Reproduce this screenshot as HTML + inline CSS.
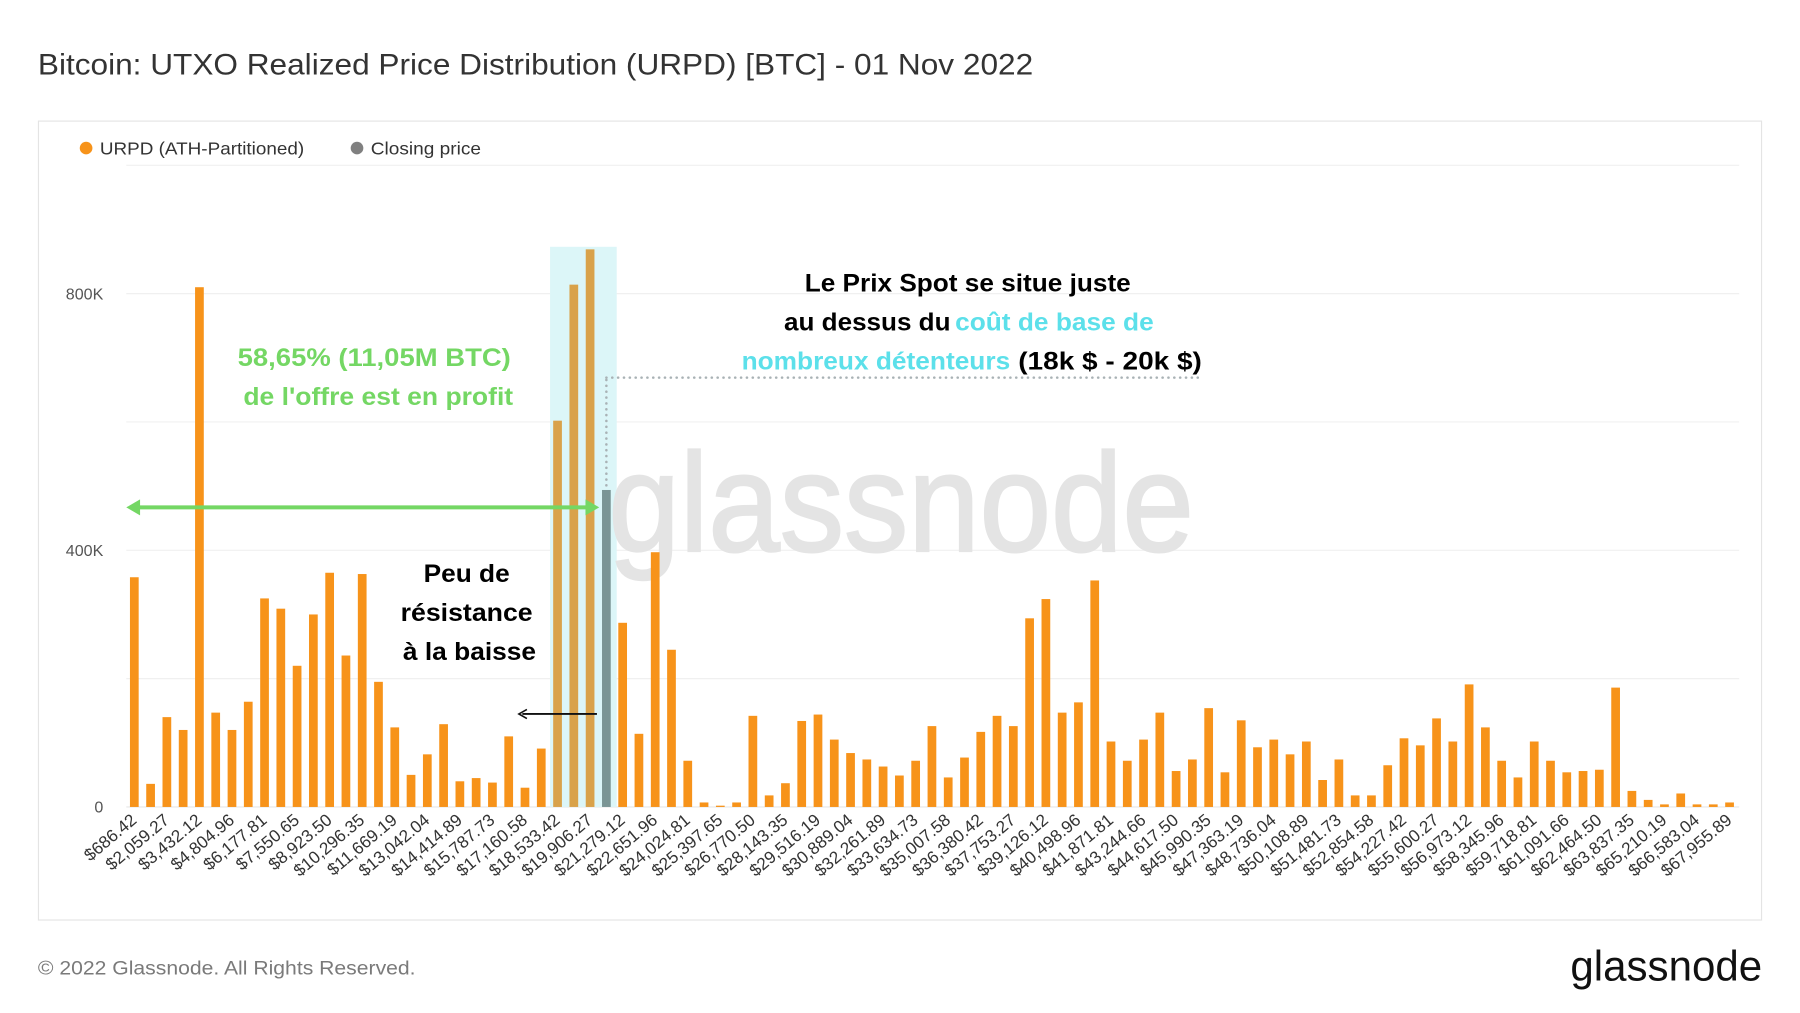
<!DOCTYPE html>
<html><head><meta charset="utf-8"><style>
html,body{margin:0;padding:0;background:#fff;}
svg{display:block;font-family:"Liberation Sans",sans-serif;}
</style></head><body>
<svg id="chart" width="1800" height="1013" viewBox="0 0 1568 882.5" preserveAspectRatio="none" xmlns="http://www.w3.org/2000/svg">
<text x="33" y="65" font-size="26" fill="#333" textLength="867" lengthAdjust="spacingAndGlyphs">Bitcoin: UTXO Realized Price Distribution (URPD) [BTC] - 01 Nov 2022</text>
<rect x="33.5" y="105.5" width="1501" height="696" fill="#fff" stroke="#e4e4e4"/>
<g>
 <g><circle cx="75" cy="129" r="5.5" fill="#f7931a"/><text x="87" y="134.5" font-size="15" fill="#333" textLength="178" lengthAdjust="spacingAndGlyphs">URPD (ATH-Partitioned)</text></g>
 <g><circle cx="311" cy="129" r="5.5" fill="#808080"/><text x="323" y="134.5" font-size="15" fill="#333" textLength="96" lengthAdjust="spacingAndGlyphs">Closing price</text></g>
</g>
<g id="grid"></g>
<g id="ylabels"></g>
<rect id="hl" fill="#dcf6f8"/>
<text x="530" y="480" font-size="122" fill="#e4e4e4" stroke="#e4e4e4" stroke-width="2" textLength="510" lengthAdjust="spacingAndGlyphs">glassnode</text>
<g id="bars"></g>
<g id="xlabels"></g>
<line id="dotv" stroke="#a9b2b5" stroke-width="2.2" stroke-dasharray="0.1 5" stroke-linecap="round"/>
<line id="doth" stroke="#a9b2b5" stroke-width="2.2" stroke-dasharray="0.1 5" stroke-linecap="round"/>
<g>
 <line x1="118" y1="442" x2="514" y2="442" stroke="#74d764" stroke-width="3.5"/>
 <polygon points="110,442 122,435 122,449" fill="#74d764"/>
 <polygon points="522,442 510,435 510,449" fill="#74d764"/>
</g>
<g>
 <line x1="455" y1="622" x2="520" y2="622" stroke="#111" stroke-width="1.6"/>
 <polyline points="459,618 452,622 459,626" fill="none" stroke="#111" stroke-width="1.4"/>
</g>
<g font-weight="bold" font-size="22" fill="#74d764">
 <text x="207" y="319" textLength="238" lengthAdjust="spacingAndGlyphs">58,65% (11,05M BTC)</text>
 <text x="212" y="353" textLength="235" lengthAdjust="spacingAndGlyphs">de l'offre est en profit</text>
</g>
<g font-weight="bold" font-size="22" fill="#000">
 <text x="369" y="507" textLength="75" lengthAdjust="spacingAndGlyphs">Peu de</text>
 <text x="349" y="541" textLength="115" lengthAdjust="spacingAndGlyphs">résistance</text>
 <text x="351" y="575" textLength="116" lengthAdjust="spacingAndGlyphs">à la baisse</text>
</g>
<g font-weight="bold" font-size="22" fill="#000">
 <text x="701" y="254" textLength="284" lengthAdjust="spacingAndGlyphs">Le Prix Spot se situe juste</text>
 <text x="683" y="288" textLength="145" lengthAdjust="spacingAndGlyphs">au dessus du</text>
 <text x="832" y="288" fill="#5ce0ea" textLength="173" lengthAdjust="spacingAndGlyphs">coût de base de</text>
 <text x="646" y="322" fill="#5ce0ea" textLength="234" lengthAdjust="spacingAndGlyphs">nombreux détenteurs</text>
 <text x="887" y="322" textLength="160" lengthAdjust="spacingAndGlyphs">(18k $ - 20k $)</text>
</g>
<text x="33" y="849" font-size="17" fill="#7a7a7a" textLength="329" lengthAdjust="spacingAndGlyphs">© 2022 Glassnode. All Rights Reserved.</text>
<text x="1535" y="854" font-size="37" fill="#111" text-anchor="end" textLength="167" lengthAdjust="spacingAndGlyphs">glassnode</text>
</svg>
<script>
const values = [358,36,140,120,810,147,120,164,325,309,220,300,365,236,363,195,124,50,82,129,40,45,38,110,30,91,602,814,869,494,287,114,397,245,72,7,2,7,142,18,37,134,144,105,84,74,63,49,72,126,46,77,117,142,126,294,324,147,163,353,102,72,105,147,56,74,154,54,135,93,105,82,102,42,74,18,18,65,107,96,138,102,191,124,72,46,102,72,54,56,58,186,25,11,4,21,4,4,7];
const priceStep = [686.4231];
const closingIndex = [29];
const highlightRange = [26, 29];
const yTicks = [0,200,400,600,800,1000];
const yTickLabels = ["0","","400K","","800K",""];

const NS="http://www.w3.org/2000/svg";
const X0=117, DX=14.18, Y0=703, PXK=0.559, BW=7.6;
const xs = i => X0 + i*DX;
const ys = v => Y0 - v*PXK;
function mk(t,a,p){const e=document.createElementNS(NS,t);for(const k in a)e.setAttribute(k,a[k]);p.appendChild(e);return e;}
const grid=document.getElementById('grid'), yl=document.getElementById('ylabels');
yTicks.forEach((t,j)=>{
  const l=mk('line',{x1:110,x2:1515,y1:ys(t),y2:ys(t),stroke:j==0?'#e6e6e6':'#f0f0f0','stroke-width':1},grid);
  
  
  if(yTickLabels[j]){const tx=mk('text',{x:90,y:ys(t)+5,'font-size':14,fill:'#555','text-anchor':'end'},yl);tx.textContent=yTickLabels[j];
  
  }
});
const hl=document.getElementById('hl');
const hx0=xs(highlightRange[0])-6.5, hx1=xs(highlightRange[1])+9;
hl.setAttribute('x',hx0);hl.setAttribute('width',hx1-hx0);hl.setAttribute('y',215);hl.setAttribute('height',Y0-215);
const bars=document.getElementById('bars');
values.forEach((v,i)=>{
  let fill='#f7931a';
  if(i===closingIndex[0]) fill='#7a9595';
  else if(i>=highlightRange[0]&&i<highlightRange[1]) fill='#d9a24a';
  const r=mk('rect',{x:xs(i)-BW/2,y:ys(v),width:BW,height:v*PXK,fill:fill},bars);
  
  
});
const xl=document.getElementById('xlabels');
for(let i=0;i<values.length;i+=2){
  const p=priceStep[0]*(i+1);
  const s='$'+p.toLocaleString('en-US',{minimumFractionDigits:2,maximumFractionDigits:2});
  const x=xs(i)+3, y=716;
  const t=mk('text',{x:x,y:y,'font-size':15,fill:'#333','text-anchor':'end',transform:`rotate(-40 ${x} ${y})`},xl);
  t.textContent=s;
  
  
}
const cx=xs(closingIndex[0]);
const dv=document.getElementById('dotv');dv.setAttribute('x1',cx);dv.setAttribute('x2',cx);dv.setAttribute('y1',331);dv.setAttribute('y2',ys(values[closingIndex[0]])-4);
const dh=document.getElementById('doth');dh.setAttribute('x1',cx);dh.setAttribute('x2',1047);dh.setAttribute('y1',329);dh.setAttribute('y2',329);
</script>
</body></html>
